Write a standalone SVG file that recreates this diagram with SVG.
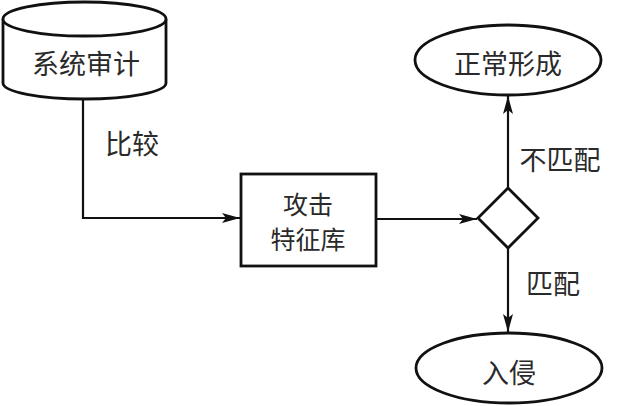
<svg xmlns="http://www.w3.org/2000/svg" width="617" height="406" viewBox="0 0 617 406">
<style>
.s{fill:#fff;stroke:#111;stroke-width:2.8}
.c{fill:none;stroke:#111;stroke-width:2.2}
text{font-family:"Noto Sans CJK SC","Noto Sans",sans-serif;font-size:27px;fill:#2a2a2a;text-anchor:middle;dominant-baseline:central}
.b{font-size:25px}
</style>
<defs>
<marker id="a" viewBox="0 0 18 10" refX="18" refY="5" markerWidth="18" markerHeight="10" markerUnits="userSpaceOnUse" orient="auto">
<path d="M0,0 L18,5 L0,10 L4,5 Z" fill="#111"/>
</marker>
</defs>
<g id="connectors">
<path class="c" d="M83,99 V218 H240" marker-end="url(#a)"/>
<path class="c" d="M376,219 H477" marker-end="url(#a)"/>
<path class="c" d="M508,188 V96" marker-end="url(#a)"/>
<path class="c" d="M508,248 V332" marker-end="url(#a)"/>
<text x="132" y="142">比较</text>
<text x="560" y="158">不匹配</text>
<text x="553" y="282">匹配</text>
</g>
<g id="audit">
<path class="s" d="M3,19 V83 A81.5,16 0 0 0 166,83 V19"/>
<ellipse class="s" cx="84.5" cy="19" rx="81.5" ry="17"/>
<text x="86" y="62">系统审计</text>
</g>
<g id="library">
<rect class="s" x="241" y="174" width="135" height="92"/>
<text class="b" x="308" y="203">攻击</text>
<text class="b" x="308" y="238">特征库</text>
</g>
<g id="decision">
<path class="s" d="M508,188 L538,218 L508,248 L478,218 Z"/>
</g>
<g id="normal">
<ellipse class="s" cx="508" cy="60" rx="93" ry="35"/>
<text x="508" y="62">正常形成</text>
</g>
<g id="intrusion">
<ellipse class="s" cx="509" cy="368" rx="93" ry="35"/>
<text x="509" y="371">入侵</text>
</g>
</svg>
